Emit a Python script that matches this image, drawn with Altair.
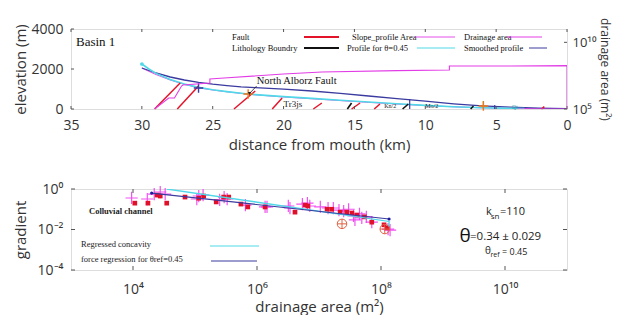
import altair as alt
import pandas as pd

# ---------------- top panel data ----------------
smooth_dist = [30, 29, 28, 27, 26, 25, 24, 23, 22, 20, 18, 16, 14, 12, 11, 10, 8, 6, 4, 2, 0]
smooth_elev = [2050, 1800, 1600, 1450, 1330, 1240, 1170, 1110, 1070, 990, 900, 780, 650, 520, 460, 390, 260, 160, 90, 40, 20]
theta_dist = [30, 29.5, 29, 28, 27, 26, 25, 24, 23, 22.5, 22, 20, 18, 16, 14, 12, 10, 8, 6, 4, 3]
theta_elev = [2250, 2000, 1780, 1480, 1250, 1080, 960, 870, 790, 750, 720, 620, 530, 440, 350, 260, 180, 110, 60, 30, 20]
raw_dist = [30, 29.5, 29, 28, 27, 26, 25, 24, 23, 22, 20, 18, 16, 14, 12, 10, 8, 6, 4, 2, 0]
raw_elev = [2050, 1880, 1720, 1450, 1230, 1060, 950, 860, 780, 710, 600, 510, 420, 330, 250, 170, 110, 60, 30, 15, 5]

area_dist = [29.1, 28.1, 27.7, 27.2, 27.1, 25.2, 25.2, 24.2, 20, 17.3, 12, 8.3, 8.3, 4, 0, 0, 3.5]
area_val = [1e5, 6.7e5, 6.7e5, 5.3e6, 6.3e6, 8.9e6, 1.8e7, 2.1e7, 4.2e7, 6.0e7, 7.6e7, 8.4e7, 1.7e8, 1.7e8, 1.8e8, 1e5, 1e5]

fault_x1 = [29.1, 27.5, 23.5, 20.8, 17.9, 15.2, 13.6, 1.8]
fault_x2 = [27.3, 26.0, 22.0, 20.1, 17.3, 14.6, 13.2, 1.6]
fault_y1 = [0, 0, 0, 0, 0, 0, 0, 0]
fault_y2 = [1300, 1150, 900, 550, 300, 300, 250, 120]

litho_x1 = [15.5, 11.6, 6.8]
litho_x2 = [15.2, 11.2, 6.6]
litho_y1 = [0, 0, 0]
litho_y2 = [300, 250, 150]

mark_dist = [26.0, 22.5, 5.9]
mark_elev = [1050, 750, 150]
mark_col = ["#3a3aa0", "#f07818", "#f07818"]

vline_dist = [11.1, 5.9, 5.1]
vline_top = [500, 400, 200]
vline_col = ["#3a3aa0", "#60b030", "#3a3aa0"]

lab_text = ["Tr3js", "Kn/2", "Mo/2", "Qt"]
lab_dist = [20.0, 12.9, 10.0, 3.9]
lab_elev = [250, 130, 150, 120]
lab_size = [9, 6, 6, 6]
lab_col = ["#222", "#222", "#222", "#30a0b0"]

arrow_dist = [21.9, 22.4]
arrow_elev = [1150, 780]

dist_ticks = [35, 30, 25, 20, 15, 10, 5, 0]
elev_ticks = [0, 2000, 4000]
area_ticks = [1e5, 1e10]

# ---------------- bottom panel data ----------------
cross_area = [9.5e3, 1.7e4, 2.2e4, 2.75e4, 3.3e4, 1.07e5, 1.15e5, 1.35e5, 2.5e5, 2.95e5, 3.3e5, 6.5e5,
              1.35e6, 1.45e6, 3.2e6, 3.4e6, 5.4e6, 6.5e6, 7.1e6, 1.05e7, 1.4e7, 1.7e7, 2.1e7, 2.5e7,
              3.0e7, 3.6e7, 3.8e7, 4.5e7, 4.9e7, 5.8e7, 7.1e7, 1.3e8, 1.4e8]
cross_grad = [0.36, 0.32, 0.56, 0.71, 0.56, 0.32, 0.45, 0.50, 0.29, 0.40, 0.32, 0.16,
              0.13, 0.13, 0.145, 0.115, 0.18, 0.20, 0.145, 0.13, 0.115, 0.115, 0.091, 0.081,
              0.10, 0.047, 0.030, 0.059, 0.037, 0.042, 0.023, 0.0105, 0.0093]

sq_area = [1.07e4, 1.74e4, 2.45e4, 2.75e4, 3.5e4, 6.9e4, 1.15e5, 1.38e5, 2.2e5, 2.9e5, 3.5e5, 5.5e5,
           7.1e5, 1.35e6, 4.1e6, 6.0e6, 6.6e6, 1.35e7, 1.6e7, 2.2e7, 2.8e7, 3.4e7, 4.1e7, 5.4e7,
           7.1e7, 1.12e8, 1.26e8]
sq_grad = [0.20, 0.20, 0.50, 0.45, 0.20, 0.40, 0.35, 0.45, 0.23, 0.40, 0.40, 0.18,
           0.13, 0.13, 0.072, 0.16, 0.145, 0.10, 0.10, 0.072, 0.072, 0.065, 0.052, 0.042,
           0.023, 0.017, 0.012]

circ_area = [2.35e7, 1.15e8]
circ_grad = [0.019, 0.0105]

reg_area = [3.5e4, 1.35e8, 1.35e8]
reg_grad = [1.0, 0.025, 0.014]
force_area = [2.0e4, 1.35e8]
force_grad = [0.63, 0.033]

area_axis_ticks = [1e4, 1e6, 1e8, 1e10]
grad_axis_ticks = [1e-4, 1e-2, 1]

# ---------------- style ----------------
W, H1, H2 = 496, 80, 81
SANS = "Open Sans"
SERIF = "Liberation Serif"
AXC = "#333333"
BLUE = "#3a3aa0"
CYAN = "#50d8e8"
MAG = "#e23ce6"
RED = "#e3142a"
FRAME = "#555555"

XS = alt.Scale(domain=[0, 35], reverse=True, nice=False, zero=False)
YS = alt.Scale(domain=[0, 4000], nice=False, zero=False)
YA = alt.Scale(type="log", domain=[1e5, 1e11], nice=False)

XAX = alt.Axis(values=dist_ticks, title="distance from mouth (km)", grid=False, ticks=False, domain=False,
               labelFlush=False, labelOverlap=False, labelFont=SANS, labelFontSize=14, titleFont=SANS,
               titleFontSize=15, titleFontWeight="normal", labelPadding=9, titlePadding=5,
               labelColor=AXC, titleColor=AXC, format="d")
YAX = alt.Axis(values=elev_ticks, title="elevation (m)", grid=False, ticks=False, domain=False,
               labelFont=SANS, labelFontSize=14, titleFont=SANS, titleFontSize=15, titleFontWeight="normal",
               labelPadding=8, titlePadding=3, labelColor=AXC, titleColor=AXC, format="d",
               minExtent=40, maxExtent=40)
YAAX = alt.Axis(values=area_ticks, title="drainage area (m²)", orient="right", grid=False, ticks=False,
                domain=False, labelFont=SANS, labelFontSize=13, titleFont=SANS, titleFontSize=12,
                titleFontWeight="normal", labelPadding=5, titlePadding=2, labelColor=AXC, titleColor=AXC,
                labelExpr="datum.value >= 1e10 ? '10¹⁰' : '10⁵'")


def X(f="x"):
    return alt.X(f"{f}:Q", scale=XS, axis=XAX)


def Y(f="y"):
    return alt.Y(f"{f}:Q", scale=YS, axis=YAX)


one = pd.DataFrame({"a": [0]})

smooth = alt.Chart(pd.DataFrame({"x": smooth_dist, "y": smooth_elev})).mark_line(
    color=BLUE, strokeWidth=1.3, clip=True).encode(x=X(), y=Y())
raw = alt.Chart(pd.DataFrame({"x": raw_dist, "y": raw_elev})).mark_line(
    color=MAG, strokeWidth=0.9, clip=True).encode(x=X(), y=Y())
theta = alt.Chart(pd.DataFrame({"x": theta_dist, "y": theta_elev})).mark_line(
    color=CYAN, strokeWidth=1.6, clip=True).encode(x=X(), y=Y())
head = alt.Chart(pd.DataFrame({"x": theta_dist[:1], "y": theta_elev[:1]})).mark_circle(
    color=CYAN, size=14, opacity=1).encode(x=X(), y=Y())

faults = alt.Chart(pd.DataFrame({"x": fault_x1, "x2": fault_x2, "y": fault_y1, "y2": fault_y2})).mark_rule(
    color=RED, strokeWidth=1.5).encode(x=X(), x2="x2:Q", y=Y(), y2="y2:Q")
litho = alt.Chart(pd.DataFrame({"x": litho_x1, "x2": litho_x2, "y": litho_y1, "y2": litho_y2})).mark_rule(
    color="#111111", strokeWidth=1.6).encode(x=X(), x2="x2:Q", y=Y(), y2="y2:Q")
vlines = alt.Chart(pd.DataFrame({"x": vline_dist, "y": [0] * 3, "y2": vline_top, "c": vline_col})).mark_rule(
    strokeWidth=1.2).encode(x=X(), y=Y(), y2="y2:Q", color=alt.Color("c:N", scale=None))
marks = alt.Chart(pd.DataFrame({"x": mark_dist, "y": mark_elev, "c": mark_col})).mark_point(
    shape="M-1,0L1,0M0,-1L0,1", size=90, strokeWidth=1.4, filled=False, opacity=1).encode(
    x=X(), y=Y(), color=alt.Color("c:N", scale=None))
labels = alt.Chart(pd.DataFrame({"x": lab_dist, "y": lab_elev, "t": lab_text, "s": lab_size, "c": lab_col})).mark_text(
    font=SERIF, align="left", baseline="middle").encode(
    x=X(), y=Y(), text="t:N", size=alt.Size("s:Q", scale=None), color=alt.Color("c:N", scale=None))
arrow = alt.Chart(pd.DataFrame({"x": arrow_dist, "y": arrow_elev})).mark_line(
    color="#222", strokeWidth=0.8).encode(x=X(), y=Y())
arrow_head = alt.Chart(pd.DataFrame({"x": arrow_dist[1:], "y": arrow_elev[1:]})).mark_point(
    shape="triangle-down", size=12, filled=True, color="#222", opacity=1).encode(x=X(), y=Y())
naf = alt.Chart(pd.DataFrame({"x": [21.9], "y": [1400], "t": ["North Alborz Fault"]})).mark_text(
    font=SERIF, fontSize=10.5, align="left", baseline="middle", color="#111").encode(x=X(), y=Y(), text="t:N")
basin = alt.Chart(one).mark_text(text="Basin 1", font=SERIF, fontSize=13, align="left", baseline="middle",
                                 color="#111").encode(x=alt.value(5), y=alt.value(13))

# inward ticks
xt_b = alt.Chart(pd.DataFrame({"x": dist_ticks})).mark_rule(color=FRAME).encode(
    x=X(), y=alt.value(H1), y2=alt.value(H1 - 3))
xt_t = alt.Chart(pd.DataFrame({"x": dist_ticks})).mark_rule(color=FRAME).encode(
    x=X(), y=alt.value(0), y2=alt.value(3))
yt_l = alt.Chart(pd.DataFrame({"y": elev_ticks})).mark_rule(color=FRAME).encode(
    y=Y(), x=alt.value(0), x2=alt.value(3))

# legend (annotation, pixel positions)
leg = []
leg_items = [
    ("Fault", 161, 8, 233, 268, RED, 1.8),
    ("Lithology Boundry", 161, 19, 233, 268, "#111111", 1.8),
    ("Slope_profile Area", 281, 8, 344, 384, MAG, 0.9),
    ("Profile for θ=0.45", 276, 19, 346, 384, CYAN, 1.2),
    ("Drainage area", 393, 8, 436, 471, MAG, 1.0),
    ("Smoothed profile", 393, 19, 458, 476, BLUE, 1.0),
]
for t, tx, ty, lx1, lx2, c, sw in leg_items:
    leg.append(alt.Chart(one).mark_text(text=t, font=SERIF, fontSize=8.5, align="left", baseline="middle",
                                        color="#111").encode(x=alt.value(tx), y=alt.value(ty)))
    leg.append(alt.Chart(one).mark_rule(color=c, strokeWidth=sw).encode(
        x=alt.value(lx1), x2=alt.value(lx2), y=alt.value(ty)))

groupA = alt.layer(raw, smooth, theta, head, faults, litho, vlines, marks, labels, arrow, arrow_head, naf,
                   basin, xt_b, xt_t, yt_l, *leg)

area_line = alt.Chart(pd.DataFrame({"x": area_dist, "y": area_val, "i": list(range(len(area_dist)))})).mark_line(
    color=MAG, strokeWidth=1.1, clip=True).encode(
    x=X(), y=alt.Y("y:Q", scale=YA, axis=YAAX), order="i:Q")
yt_r = alt.Chart(pd.DataFrame({"y": area_ticks})).mark_rule(color=FRAME).encode(
    y=alt.Y("y:Q", scale=YA, axis=YAAX), x=alt.value(W), x2=alt.value(W - 3))
groupB = alt.layer(area_line, yt_r)

top = alt.layer(groupA, groupB).resolve_scale(y="independent").properties(width=W, height=H1)

# ---------------- bottom panel ----------------
XB = alt.Scale(type="log", domain=[1e3, 1e11], nice=False)
YB = alt.Scale(type="log", domain=[1e-4, 1], nice=False)
XBAX = alt.Axis(values=area_axis_ticks, title="drainage area (m²)", grid=False, ticks=False, domain=False,
                labelFlush=False, labelOverlap=False, labelFont=SANS, labelFontSize=14, titleFont=SANS,
                titleFontSize=15, titleFontWeight="normal", labelPadding=12, titlePadding=3,
                labelColor=AXC, titleColor=AXC,
                labelExpr="datum.value >= 1e10 ? '10¹⁰' : datum.value >= 1e8 ? '10⁸' : datum.value >= 1e6 ? '10⁶' : '10⁴'")
YBAX = alt.Axis(values=grad_axis_ticks, title="gradient", grid=False, ticks=False, domain=False,
                labelFont=SANS, labelFontSize=14, titleFont=SANS, titleFontSize=15, titleFontWeight="normal",
                labelPadding=8, titlePadding=3, labelColor=AXC, titleColor=AXC, minExtent=40, maxExtent=40,
                labelExpr="datum.value >= 1 ? '10⁰' : datum.value >= 1e-2 ? '10⁻²' : '10⁻⁴'")


def XBe(f="x"):
    return alt.X(f"{f}:Q", scale=XB, axis=XBAX)


def YBe(f="y"):
    return alt.Y(f"{f}:Q", scale=YB, axis=YBAX)


crosses = alt.Chart(pd.DataFrame({"x": cross_area, "y": cross_grad})).mark_point(
    shape="M-1,0L1,0M0,-1L0,1", size=150, strokeWidth=1.2, filled=False, color="#f040f0", opacity=0.9
).encode(x=XBe(), y=YBe())
squares = alt.Chart(pd.DataFrame({"x": sq_area, "y": sq_grad})).mark_square(
    size=22, color="#e0102a", opacity=1).encode(x=XBe(), y=YBe())
circs = alt.Chart(pd.DataFrame({"x": circ_area, "y": circ_grad})).mark_point(
    shape="M-1,0L1,0M0,-1L0,1M1,0A1,1 0 1,1 -1,0A1,1 0 1,1 1,0", size=90, strokeWidth=1,
    filled=False, color="#e06040", opacity=1).encode(x=XBe(), y=YBe())
reg = alt.Chart(pd.DataFrame({"x": reg_area, "y": reg_grad, "i": [0, 1, 2]})).mark_line(
    color=CYAN, strokeWidth=1.3, clip=True).encode(x=XBe(), y=YBe(), order="i:Q")
force = alt.Chart(pd.DataFrame({"x": force_area, "y": force_grad})).mark_line(
    color=BLUE, strokeWidth=1.2).encode(x=XBe(), y=YBe())
fdots = alt.Chart(pd.DataFrame({"x": force_area, "y": force_grad})).mark_circle(
    color="#1a1aa0", size=10, opacity=1).encode(x=XBe(), y=YBe())

bx_b = alt.Chart(pd.DataFrame({"x": area_axis_ticks})).mark_rule(color=FRAME).encode(
    x=XBe(), y=alt.value(H2), y2=alt.value(H2 - 4))
bx_t = alt.Chart(pd.DataFrame({"x": area_axis_ticks})).mark_rule(color=FRAME).encode(
    x=XBe(), y=alt.value(0), y2=alt.value(4))
by_l = alt.Chart(pd.DataFrame({"y": grad_axis_ticks})).mark_rule(color=FRAME).encode(
    y=YBe(), x=alt.value(0), x2=alt.value(4))
by_r = alt.Chart(pd.DataFrame({"y": grad_axis_ticks})).mark_rule(color=FRAME).encode(
    y=YBe(), x=alt.value(W), x2=alt.value(W - 4))

btexts = [
    ("Colluvial channel", SERIF, 8.5, "bold", 18, 22, "left", "#222"),
    ("Regressed concavity", SERIF, 8.5, "normal", 10, 55, "left", "#222"),
    ("force regression for θref=0.45", SERIF, 8.5, "normal", 10, 70, "left", "#222"),
    ("k", SANS, 11, "normal", 418, 23, "center", "#222"),
    ("sn", SANS, 8, "normal", 424, 28, "center", "#222"),
    ("=110", SANS, 11, "normal", 429, 23, "left", "#222"),
    ("θ", SANS, 19, "normal", 394, 47, "center", "#111"),
    ("=0.34 ± 0.029", SANS, 11.5, "normal", 399, 48, "left", "#222"),
    ("θ", SANS, 10, "normal", 417, 62, "center", "#222"),
    ("ref", SANS, 7, "normal", 424, 66, "center", "#222"),
    ("= 0.45", SANS, 9, "normal", 431, 63, "left", "#222"),
]
bt_layers = []
for t, f, fs, fw, tx, ty, al, c in btexts:
    bt_layers.append(alt.Chart(one).mark_text(text=t, font=f, fontSize=fs, fontWeight=fw, align=al,
                                              baseline="middle", color=c).encode(
        x=alt.value(tx), y=alt.value(ty)))
bleg = [
    alt.Chart(one).mark_rule(color=CYAN, strokeWidth=1.2).encode(x=alt.value(139), x2=alt.value(188), y=alt.value(57)),
    alt.Chart(one).mark_rule(color=BLUE, strokeWidth=1.2).encode(x=alt.value(140), x2=alt.value(186), y=alt.value(72)),
]

bottom = alt.layer(crosses, squares, circs, reg, force, fdots, bx_b, bx_t, by_l, by_r, *bt_layers, *bleg
                   ).properties(width=W, height=H2)

chart = alt.vconcat(top, bottom, spacing=28).properties(
    padding={"left": 4, "top": 9, "right": 4, "bottom": 0}
).configure_view(stroke=FRAME, strokeWidth=1).configure(background="white")

chart.save("out.html", embed_options={"renderer": "svg", "actions": False})
